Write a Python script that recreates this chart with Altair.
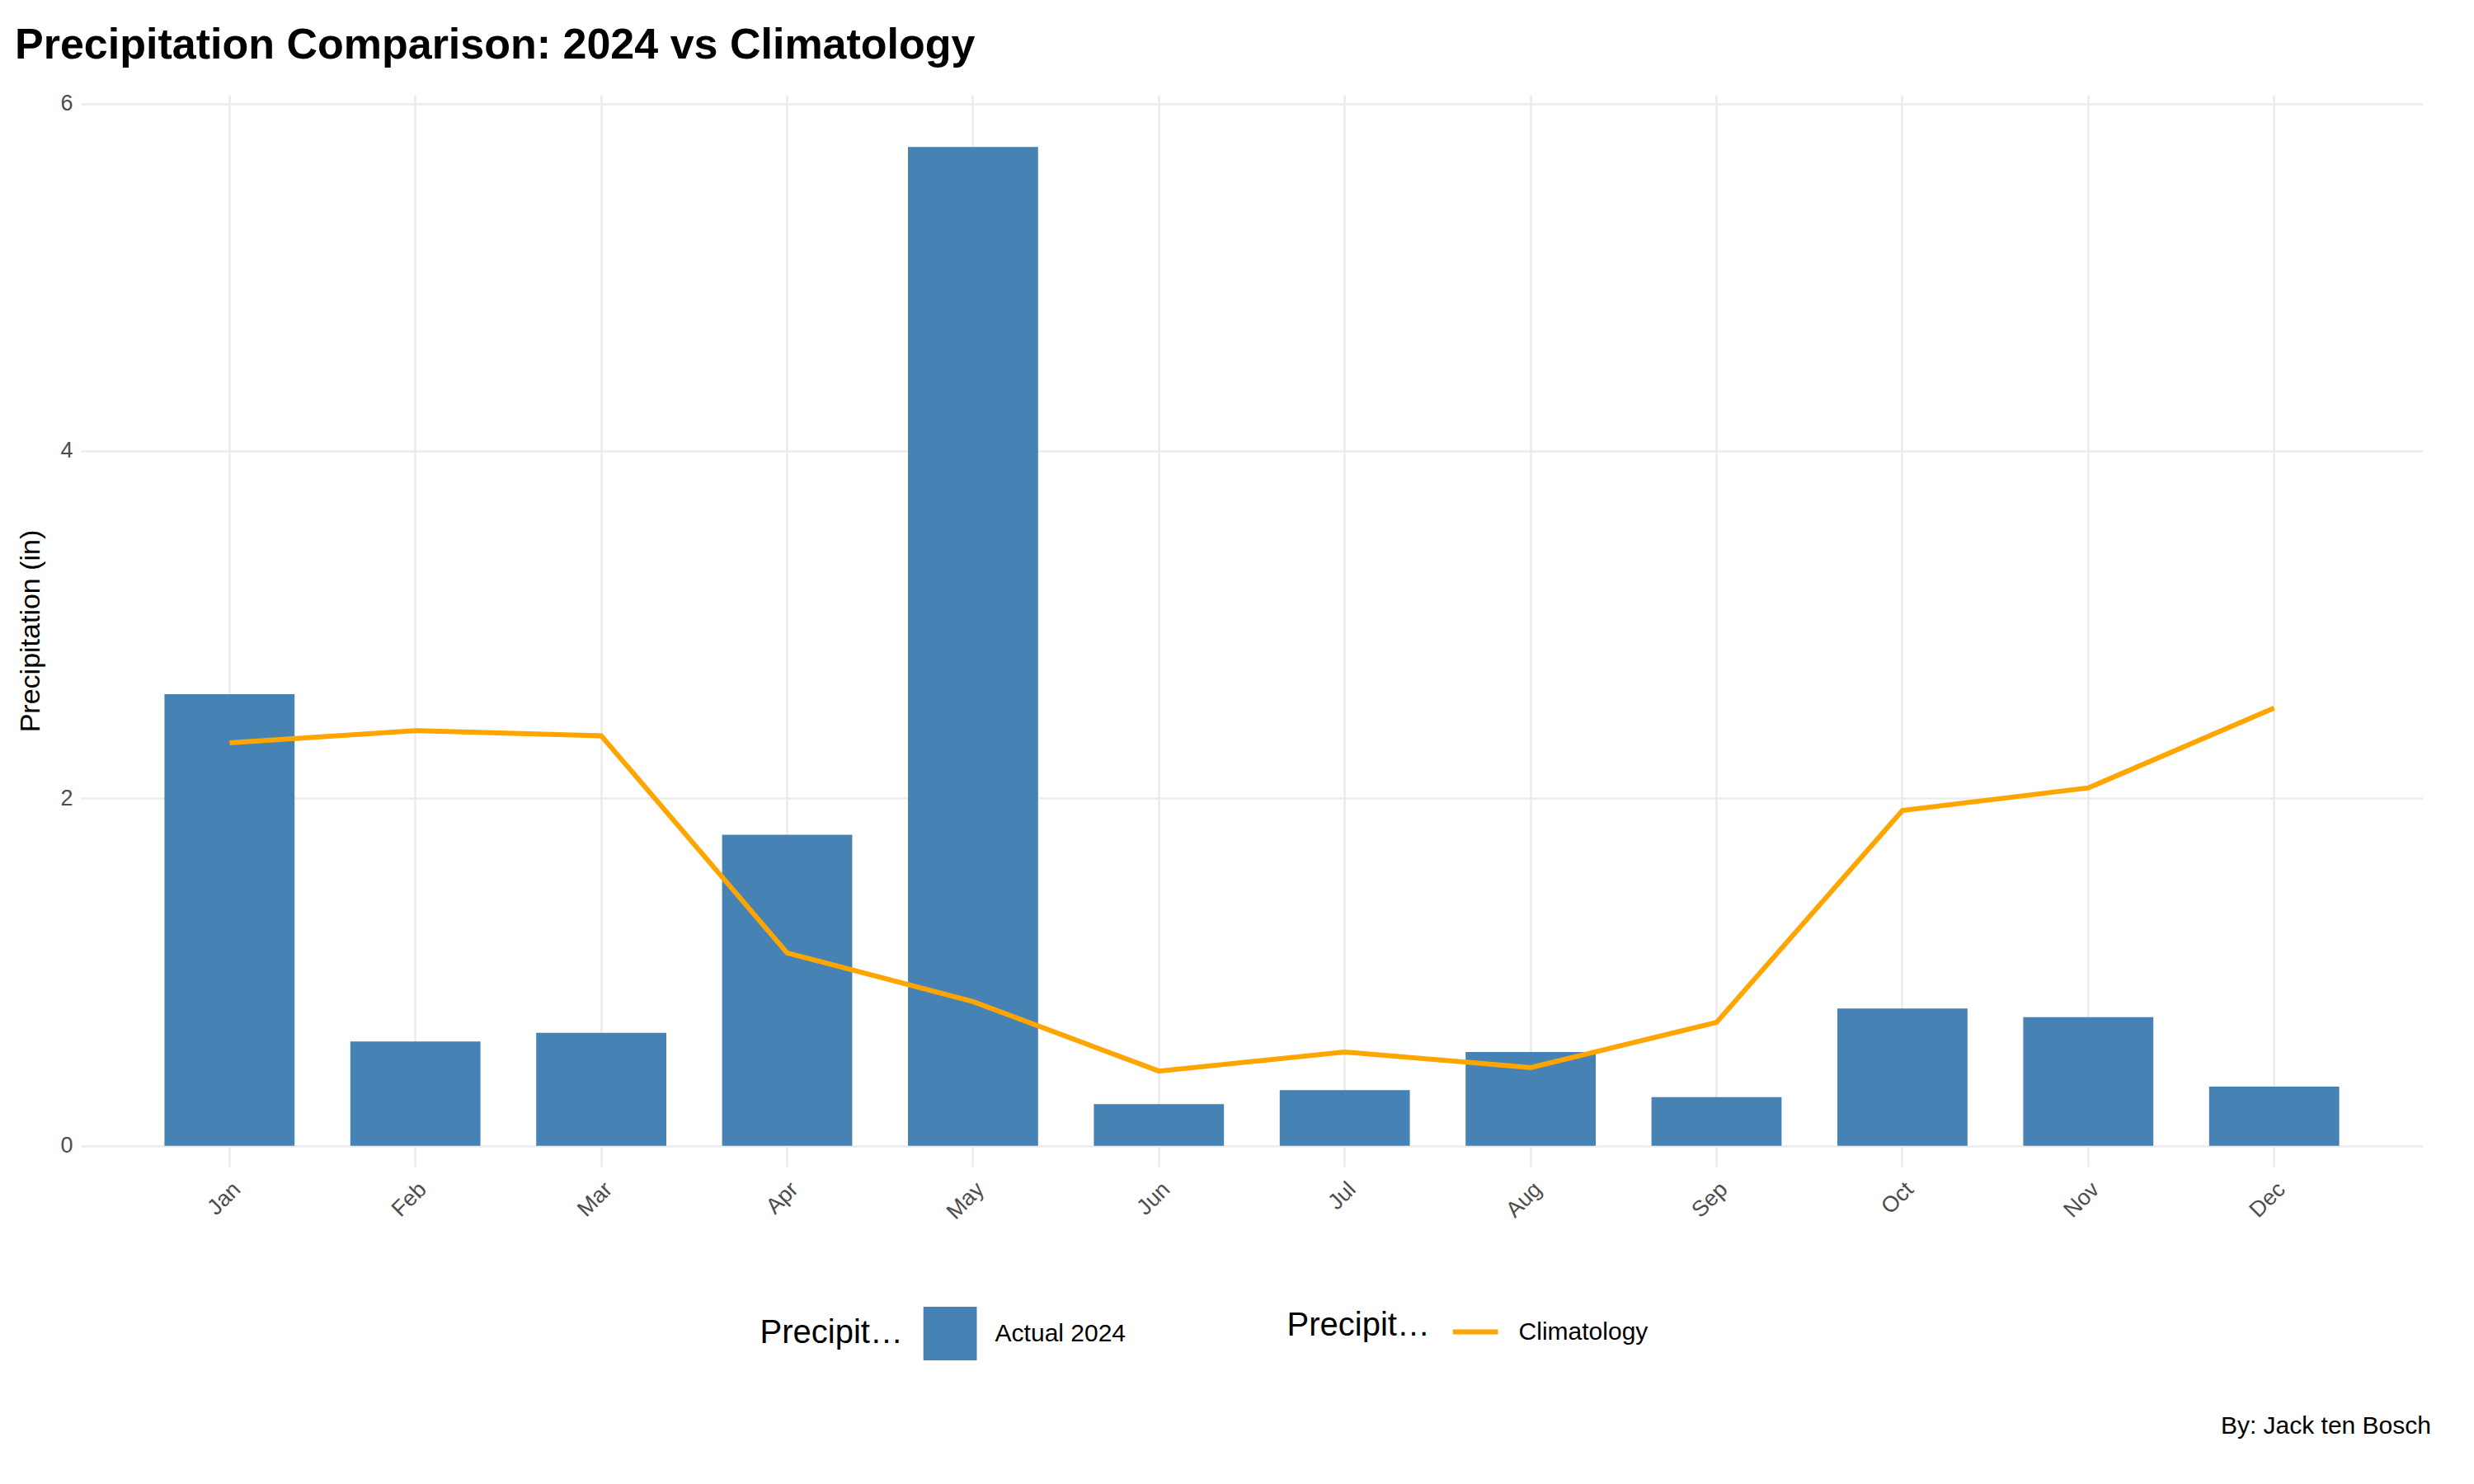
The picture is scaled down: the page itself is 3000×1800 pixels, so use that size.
import pandas as pd
import altair as alt

months = ["Jan", "Feb", "Mar", "Apr", "May", "Jun", "Jul", "Aug", "Sep", "Oct", "Nov", "Dec"]
actual_2024 = [2.60, 0.60, 0.65, 1.79, 5.75, 0.24, 0.32, 0.54, 0.28, 0.79, 0.74, 0.34]
climatology = [2.32, 2.39, 2.36, 1.11, 0.83, 0.43, 0.54, 0.45, 0.71, 1.93, 2.06, 2.52]

df = pd.DataFrame({"month": months, "actual": actual_2024, "clim": climatology,
                   "bar_lab": "Actual 2024", "line_lab": "Climatology"})

W, H = 2840, 1300
FONT = "Liberation Sans"

x = alt.X("month:N", sort=months, title=None,
          scale=alt.Scale(paddingInner=0.3, paddingOuter=0.45),
          axis=alt.Axis(labelAngle=-45, labelFontSize=27, labelColor="#4d4d4d", labelFont=FONT,
                        grid=True, gridColor="#ebebeb", gridWidth=2.5, domain=False,
                        ticks=False, labelPadding=14, labelAlign="right", labelBaseline="top"))
yscale = alt.Scale(domain=[-0.12, 6.05], nice=False)
yaxis = alt.Axis(values=[0, 2, 4, 6], format="d", labelFontSize=27, labelColor="#4d4d4d",
                 labelFont=FONT, titleFont=FONT,
                 titleFontSize=34, titleFontWeight="normal", titleColor="black",
                 gridColor="#ebebeb", gridWidth=2.5, domain=False, ticks=False,
                 labelPadding=10, titlePadding=18)

legend_style = dict(orient="none", legendY=H + 170, direction="horizontal", titleOrient="left",
                    titleFontSize=40, titleFontWeight="normal", titleColor="black",
                    labelFontSize=30, labelColor="black", titleFont=FONT, labelFont=FONT,
                    titlePadding=24, labelOffset=22, titleBaseline="middle")

base = alt.Chart(df)

bars = base.mark_bar(color="steelblue").encode(
    x=x,
    y=alt.Y("actual:Q", title="Precipitation (in)", scale=yscale, axis=yaxis),
    fill=alt.Fill("bar_lab:N", title="Precipitation",
                  scale=alt.Scale(range=["steelblue"]),
                  legend=alt.Legend(legendX=W * 0.29, symbolType="square", symbolSize=4200,
                                    symbolStrokeWidth=0, **legend_style)),
)

line = base.mark_line(strokeWidth=6).encode(
    x=x,
    y=alt.Y("clim:Q", scale=yscale),
    stroke=alt.Stroke("line_lab:N", title="Precipitation",
                      scale=alt.Scale(range=["orange"]),
                      legend=alt.Legend(legendX=W * 0.515, symbolType="stroke", symbolSize=3000,
                                        symbolStrokeWidth=6, **legend_style)),
)

caption = alt.Chart(pd.DataFrame({"t": ["By: Jack ten Bosch"]})).mark_text(
    align="right", baseline="bottom", fontSize=30, font=FONT, color="black"
).encode(text="t:N", x=alt.value(W + 10), y=alt.value(H + 330))

chart = (bars + line + caption).properties(
    width=W, height=H,
    title=alt.TitleParams("Precipitation Comparison: 2024 vs Climatology",
                          fontSize=52, fontWeight="bold", anchor="start",
                          frame="group", offset=30, dx=-80, font=FONT),
    padding={"left": 10, "top": 20, "right": 30, "bottom": 20},
).configure_view(stroke=None)

chart.save("out.html", embed_options={"renderer": "svg", "actions": False})
